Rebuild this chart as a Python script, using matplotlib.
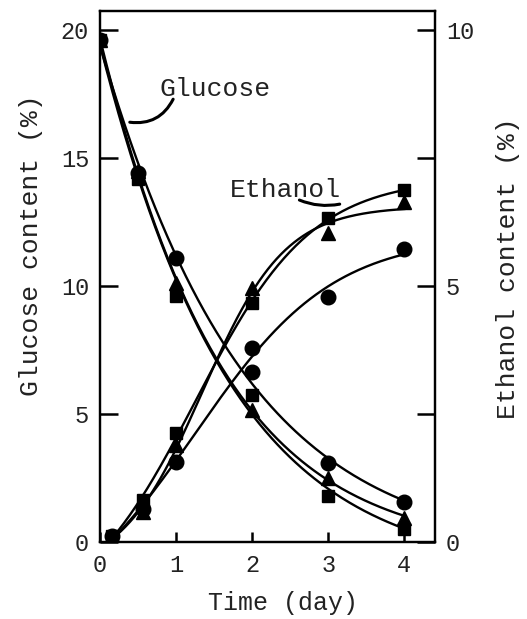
import numpy as np
import matplotlib
matplotlib.use('Agg')
import matplotlib.pyplot as plt
from matplotlib.ticker import FixedLocator

### DATA ###

t_glu = [0.0, 0.5, 1.0, 2.0, 3.0, 4.0]                  # day
glu_circle = [19.6, 14.4, 11.1, 6.64, 3.1, 1.55]        # glucose (%)
glu_triangle = [19.6, 14.5, 10.1, 5.16, 2.5, 0.95]
glu_square = [19.6, 14.2, 9.6, 5.74, 1.8, 0.5]

t_eth = [0.16, 0.57, 1.0, 2.0, 3.0, 4.0]                # day
eth_circle = [0.12, 0.65, 1.56, 3.79, 4.79, 5.72]      # ethanol (%)
eth_triangle = [0.12, 0.59, 1.9, 4.96, 6.03, 6.64]
eth_square = [0.12, 0.82, 2.13, 4.67, 6.33, 6.87]

glu_ticks = [0, 5, 10, 15, 20]
eth_ticks = [0, 5, 10]
eth_minor = [2.5, 7.5]
day_ticks = [0, 1, 2, 3, 4]

### STYLE ###

plt.rcParams['font.family'] = ['Liberation Mono', 'DejaVu Sans Mono']
txt = '#222222'
mk = dict(color='black', linestyle='none', zorder=5)
markers = {'circle': ('o', 10.5), 'triangle': ('^', 10), 'square': ('s', 9)}


def fitted(ax, t, y):
    # least-squares logistic curve c + a/(1+exp(-k(t-t0))), grid over k, t0
    t = np.asarray(t, float)
    y = np.asarray(y, float)
    best = None
    for k in np.linspace(0.2, 4.0, 77):
        for t0 in np.linspace(-3.0, 3.0, 121):
            g = 1.0 / (1.0 + np.exp(-k * (t - t0)))
            A = np.column_stack([np.ones_like(t), g])
            coef, *_ = np.linalg.lstsq(A, y, rcond=None)
            err = np.sum((A @ coef - y) ** 2)
            if best is None or err < best[0]:
                best = (err, k, t0, coef)
    _, k, t0, (c, a) = best
    tt = np.linspace(t.min(), t.max(), 200)
    ax.plot(tt, c + a / (1.0 + np.exp(-k * (tt - t0))), color='black',
            lw=1.7, zorder=3)


fig = plt.figure(figsize=(5.27, 6.19), dpi=100)
ax = fig.add_axes([0.190, 0.1244, 0.635, 0.858])
ax2 = ax.twinx()

### GLUCOSE (left axis) ###

for y, name in [(glu_circle, 'circle'), (glu_triangle, 'triangle'), (glu_square, 'square')]:
    fitted(ax, t_glu, y)
    m, s = markers[name]
    ax.plot(t_glu, y, marker=m, markersize=s, **mk)

### ETHANOL (right axis) ###

for y, name in [(eth_circle, 'circle'), (eth_triangle, 'triangle'), (eth_square, 'square')]:
    fitted(ax2, t_eth, y)
    m, s = markers[name]
    ax2.plot(t_eth, y, marker=m, markersize=s, **mk)

ax.set_xlim(0, 4.4)
ax.set_ylim(0, 20.75)
ax2.set_ylim(0, 10.375)

ax.set_xticks(day_ticks)
ax.set_yticks(glu_ticks)
ax2.set_yticks(eth_ticks)
ax2.yaxis.set_minor_locator(FixedLocator(eth_minor))

ax.tick_params(axis='y', direction='in', length=13, width=1.8, pad=8,
               labelsize=17, labelcolor=txt)
ax.tick_params(axis='x', direction='in', length=7, width=1.8, pad=9,
               labelsize=17, labelcolor=txt)
ax2.tick_params(axis='y', which='both', direction='in', length=13, width=1.8,
                pad=8, labelsize=17, labelcolor=txt)

for a in (ax, ax2):
    for sp in a.spines.values():
        sp.set_linewidth(1.6)

# axis titles placed where the scan has them
fig.text(0.537, 1 - 603 / 619, 'Time (day)', fontsize=18, color=txt,
         ha='center', va='center')
fig.text(0.0588, 1 - 245 / 619, 'Glucose content (%)', fontsize=19,
         color=txt, ha='center', va='center', rotation=90)
fig.text(0.963, 1 - 268 / 619, 'Ethanol content (%)', fontsize=19,
         color=txt, ha='center', va='center', rotation=90)

### CURVE LABELS ###

ax.text(1.51, 17.7, 'Glucose', fontsize=19, color=txt, ha='center', va='center')
ax.annotate('', xy=(0.39, 16.4), xytext=(0.96, 17.3),
            arrowprops=dict(arrowstyle='-', color='black', lw=2.2,
                            connectionstyle='arc3,rad=-0.35',
                            shrinkA=0, shrinkB=0))
ax.text(2.43, 13.75, 'Ethanol', fontsize=19, color=txt, ha='center', va='center')
ax.annotate('', xy=(3.15, 13.2), xytext=(2.62, 13.36),
            arrowprops=dict(arrowstyle='-', color='black', lw=2.2,
                            connectionstyle='arc3,rad=0.15',
                            shrinkA=0, shrinkB=0))

fig.savefig('out.png', dpi=100)
